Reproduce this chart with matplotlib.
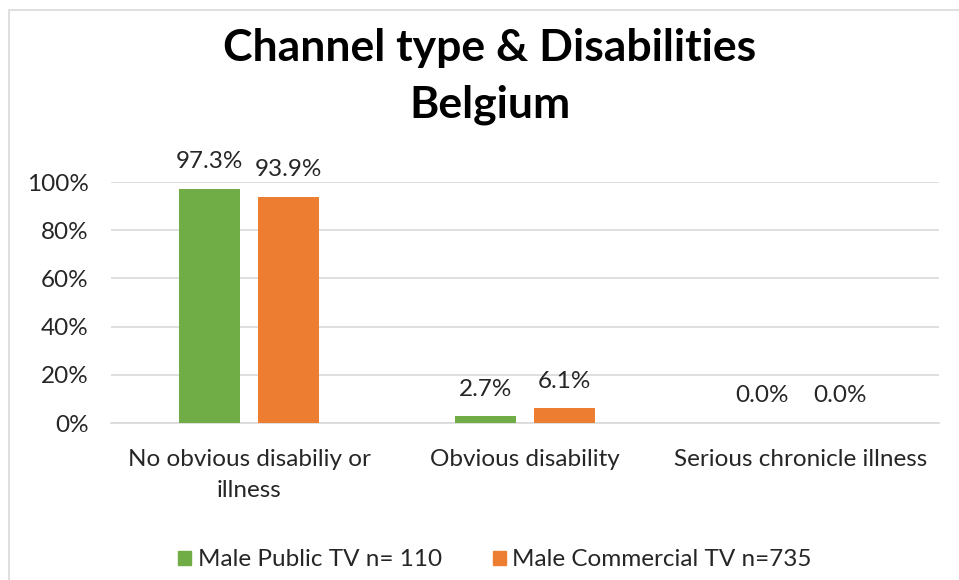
import matplotlib.pyplot as plt
import matplotlib.patches as mpatches
import numpy as np

categories = ["No obvious disabiliy or\nillness", "Obvious disability", "Serious chronicle illness"]
series_names = ["Male Public TV n= 110", "Male Commercial TV n=735"]
public_tv = [97.3, 2.7, 0.0]
commercial_tv = [93.9, 6.1, 0.0]
y_ticks = [0, 20, 40, 60, 80, 100]
colors = ["#70AD47", "#ED7D31"]

plt.rcParams['font.family'] = ['Lato', 'DejaVu Sans']

fig = plt.figure(figsize=(9.59, 5.8), dpi=100)
ax = fig.add_axes([111 / 959, (580 - 423) / 580, 828 / 959, 241 / 580])

# chart frame (cut off on the right and bottom)
fig.patches.append(mpatches.Rectangle((9 / 959, -0.1), 1.2, (580 - 10) / 580 + 0.1,
                                      transform=fig.transFigure, fill=False,
                                      edgecolor="#d9d9d9", linewidth=1.2))

x = np.arange(len(categories))
width = 0.222
offset = 0.142
fs = 17.5
for vals, off, col in [(public_tv, -offset, colors[0]), (commercial_tv, offset, colors[1])]:
    bars = ax.bar(x + off, np.array(vals) / 100, width, color=col, zorder=3)
    for b, v in zip(bars, vals):
        ax.annotate(f"{v:.1f}%", (b.get_x() + b.get_width() / 2, b.get_height()),
                    xytext=(0, 12), textcoords="offset points", ha="center", va="bottom",
                    fontsize=fs, color="#262626")

ax.set_xlim(-0.5, 2.5)
ax.set_ylim(0, 1)
ax.set_yticks(np.array(y_ticks) / 100)
ax.set_yticklabels([f"{t}%" for t in y_ticks], fontsize=fs, color="#262626")
ax.set_xticks(x)
ax.set_xticklabels(categories, fontsize=fs, color="#262626", linespacing=1.55)
ax.tick_params(axis="both", length=0)
ax.tick_params(axis="y", pad=16)
ax.tick_params(axis="x", pad=19)
ax.grid(axis="y", color="#d9d9d9", linewidth=1.2, zorder=0)
for s in ["top", "right", "left"]:
    ax.spines[s].set_visible(False)
ax.spines["bottom"].set_color("#d9d9d9")
ax.spines["bottom"].set_linewidth(1.2)

fig.text(0.511, 1 - 48 / 580, "Channel type & Disabilities", ha="center", va="center",
         fontsize=32, fontweight="bold", color="black")
fig.text(0.511, 1 - 105 / 580, "Belgium", ha="center", va="center",
         fontsize=32, fontweight="bold", color="black")

handles = [mpatches.Patch(color=c) for c in colors]
fig.legend(handles, series_names, loc="center", bbox_to_anchor=(0.516, 1 - 560 / 580),
           ncol=2, frameon=False, fontsize=fs, handlelength=0.55, handleheight=0.55,
           handletextpad=0.25, columnspacing=2.1, labelcolor="#262626")

fig.savefig("out.png", dpi=100)
